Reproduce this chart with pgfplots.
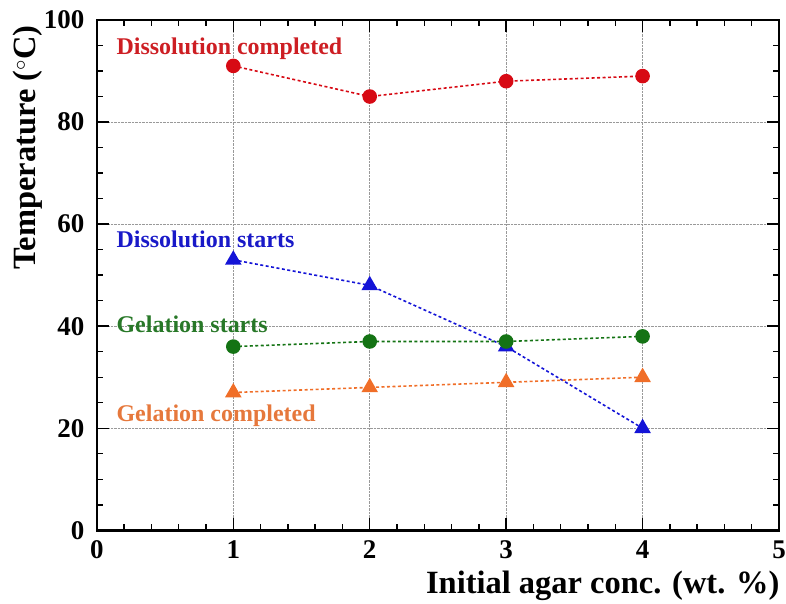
\documentclass[border=0pt]{standalone}
\usepackage{pgfplots}
\pgfplotsset{compat=1.18}
\usepackage{fontspec}
\setmainfont{Liberation Serif}
\definecolor{cred}{RGB}{215,10,20}
\definecolor{cblue}{RGB}{20,20,215}
\definecolor{cgreen}{RGB}{20,115,20}
\definecolor{corange}{RGB}{240,110,40}
\definecolor{lred}{RGB}{205,30,35}
\definecolor{lblue}{RGB}{25,25,200}
\definecolor{lgreen}{RGB}{40,120,40}
\definecolor{lorange}{RGB}{230,120,60}
\begin{document}
\begin{tikzpicture}
\begin{axis}[
  name=ax,
  scale only axis,
  width=683pt, height=511pt,
  xmin=0, xmax=5, ymin=0, ymax=100,
  xtick={0,1,2,3,4,5}, ytick={0,20,40,60,80,100},
  minor x tick num=4, minor y tick num=3,
  tick align=inside,
  major tick length=12pt, minor tick length=6pt,
  every tick/.style={black, line width=1.4pt},
  axis line style={line width=2.6pt},
  grid=major,
  major grid style={gray!80, densely dotted, line width=0.8pt},
  /pgf/number format/assume math mode=true,
  tick label style={font=\fontsize{27}{30}\selectfont\bfseries},
  xticklabel style={yshift=-7pt},
  yticklabel style={xshift=-9pt},
  xlabel={Initial agar conc. (wt. \%)},
  ylabel={Temperature ($^{\circ}$C)},
  label style={font=\fontsize{32.5}{36}\selectfont\bfseries},
  xlabel style={at={(axis description cs:1,0)}, anchor=north east, yshift=-37pt, xshift=4pt},
  ylabel style={at={(axis description cs:-0.102,0.75)}, anchor=center},
  clip=false,
]
\addplot[cred, line width=1.6pt, dash pattern=on 3pt off 2.5pt, mark=*, mark size=6.5pt, mark options={solid}]
  coordinates {(1,91) (2,85) (3,88) (4,89)};
\addplot[cblue, line width=1.6pt, dash pattern=on 3pt off 2.5pt, mark=triangle*, mark size=8pt, mark options={solid}]
  coordinates {(1,53) (2,48) (3,36) (4,20)};
\addplot[cgreen, line width=1.6pt, dash pattern=on 3pt off 2.5pt, mark=*, mark size=6.5pt, mark options={solid}]
  coordinates {(1,36) (2,37) (3,37) (4,38)};
\addplot[corange, line width=1.6pt, dash pattern=on 3pt off 2.5pt, mark=triangle*, mark size=8pt, mark options={solid}]
  coordinates {(1,27) (2,28) (3,29) (4,30)};
\node[anchor=base west, inner sep=0pt, text=lred, font=\fontsize{24}{27}\selectfont\bfseries] at (axis cs:0.143,93.3) {Dissolution completed};
\node[anchor=base west, inner sep=0pt, text=lblue, font=\fontsize{24}{27}\selectfont\bfseries] at (axis cs:0.143,55.4) {Dissolution starts};
\node[anchor=base west, inner sep=0pt, text=lgreen, font=\fontsize{24}{27}\selectfont\bfseries] at (axis cs:0.143,38.7) {Gelation starts};
\node[anchor=base west, inner sep=0pt, text=lorange, font=\fontsize{24}{27}\selectfont\bfseries] at (axis cs:0.143,21.3) {Gelation completed};
\end{axis}
\pgfresetboundingbox
\path[use as bounding box] ([xshift=-97pt,yshift=-73pt]ax.south west) rectangle ([xshift=7pt,yshift=20pt]ax.north east);
\end{tikzpicture}
\end{document}
